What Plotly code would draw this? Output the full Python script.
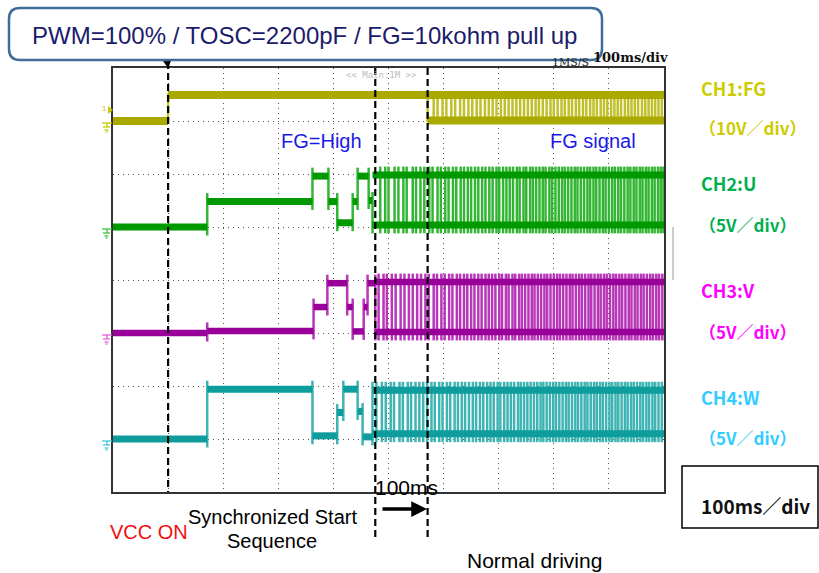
import plotly.graph_objects as go

# ---------------- data ----------------
# time axis in ms (100 ms/div, 10 div), vertical axis in scope divisions (8 div)
time_range_ms = [0, 1000]
div_range = [0, 8]

ch_names = ["CH1:FG", "CH2:U", "CH3:V", "CH4:W"]
ch_scale_labels = ["（10V／div）", "（5V／div）", "（5V／div）", "（5V／div）"]
ch_volt_per_div = [10, 5, 5, 5]
ch_ground_div = [7.0, 5.0, 3.0, 1.0]

# start-up sequence: step start times (ms) and levels (V)
ch1_pre_t = [0, 100]
ch1_pre_v = [0.0, 4.9]
ch2_pre_t = [0, 171, 362, 391, 407, 435, 444, 464]
ch2_pre_v = [0.0, 2.4, 4.8, 2.4, 0.4, 2.4, 4.8, 2.5]
ch3_pre_t = [0, 171, 364, 389, 425, 435, 455, 462]
ch3_pre_v = [0.0, 0.2, 2.45, 4.7, 2.45, 0.15, 2.45, 4.7]
ch4_pre_t = [0, 171, 362, 407, 418, 444, 453]
ch4_pre_v = [0.0, 4.7, 0.3, 2.5, 4.7, 2.6, 0.2]

# normal driving: start time (ms), first level, high / low levels (V), toggle edges (ms)
ch1_drive_start, ch1_first_high, ch1_hi, ch1_lo = 571, False, 4.9, 0.1
ch2_drive_start, ch2_first_high, ch2_hi, ch2_lo = 471, False, 4.9, 0.2
ch3_drive_start, ch3_first_high, ch3_hi, ch3_lo = 476, False, 4.8, 0.1
ch4_drive_start, ch4_first_high, ch4_hi, ch4_lo = 471, True, 4.6, 0.5

ch1_edges = [582, 589, 598, 605, 614, 621, 630, 637, 645, 652, 660, 667, 675, 682, 689, 696,
             704, 711, 718, 725, 732, 739, 746, 753, 760, 767, 773, 780, 787, 794, 800, 807,
             814, 820, 827, 833, 840, 846, 853, 859, 866, 872, 878, 885, 891, 897, 904, 910,
             916, 922, 929, 935, 941, 947, 953, 960, 966, 972, 978, 984, 990, 996]
ch2_edges = [485, 494, 500, 511, 518, 527, 533, 544, 550, 558, 565, 574, 580, 589, 595, 603,
             609, 617, 623, 631, 637, 644, 650, 657, 663, 670, 676, 683, 689, 696, 701, 708,
             714, 720, 726, 733, 738, 745, 750, 757, 762, 768, 774, 780, 785, 792, 797, 803,
             809, 815, 820, 826, 832, 838, 843, 849, 855, 861, 866, 872, 877, 883, 889, 894,
             900, 906, 911, 917, 922, 928, 934, 939, 945, 950, 956, 961, 967, 972, 978, 983,
             989, 994, 999]
ch3_edges = [482, 491, 497, 506, 513, 522, 529, 537, 544, 552, 559, 567, 573, 582, 588, 596,
             602, 610, 616, 624, 630, 637, 643, 650, 656, 663, 669, 676, 682, 688, 694, 701,
             706, 713, 718, 725, 730, 737, 742, 748, 754, 760, 765, 771, 777, 783, 788, 794,
             800, 806, 811, 817, 823, 829, 834, 840, 846, 851, 857, 863, 868, 874, 880, 885,
             891, 896, 902, 908, 913, 919, 924, 930, 936, 941, 947, 952, 958, 963, 969, 975,
             980, 986, 991, 997]
ch4_edges = [478, 488, 495, 504, 510, 520, 526, 535, 541, 549, 556, 563, 570, 578, 584, 592,
             598, 606, 612, 620, 626, 633, 639, 646, 653, 659, 666, 672, 679, 685, 691, 698,
             703, 710, 716, 722, 728, 735, 740, 746, 752, 758, 764, 770, 776, 781, 787, 793,
             799, 804, 810, 816, 822, 827, 833, 839, 844, 850, 856, 861, 867, 873, 878, 884,
             889, 895, 901, 906, 912, 917, 923, 929, 934, 940, 945, 951, 957, 962, 968, 973,
             979, 984, 990, 996]

marker_times_ms = [100, 476, 571]   # VCC ON, start of 100 ms window, normal driving

# ---------------- styling ----------------
band_colors = ["#A9A900", "#009A00", "#990099", "#0E9C9C"]
edge_colors = ["#C0C02A", "#33B633", "#B836B8", "#3FB4B4"]
label_colors = ["#CCCC00", "#00B050", "#FF00FF", "#33CCFF"]
band_widths = [8, 7, 6.5, 7]
overshoot_div = [0.03, 0.16, 0.16, 0.16]

W, H = 819, 573
PL, PR, PT, PB = 113, 664, 68, 492   # plot box in pixels


def X(px):
    return (px - PL) / (PR - PL)


def Y(py):
    return (PB - py) / (PB - PT)


channels = [
    (ch1_pre_t, ch1_pre_v, ch1_drive_start, ch1_first_high, ch1_hi, ch1_lo, ch1_edges),
    (ch2_pre_t, ch2_pre_v, ch2_drive_start, ch2_first_high, ch2_hi, ch2_lo, ch2_edges),
    (ch3_pre_t, ch3_pre_v, ch3_drive_start, ch3_first_high, ch3_hi, ch3_lo, ch3_edges),
    (ch4_pre_t, ch4_pre_v, ch4_drive_start, ch4_first_high, ch4_hi, ch4_lo, ch4_edges),
]

fig = go.Figure()
t_end = time_range_ms[1]

for k, (pre_t, pre_v, t0, first_high, hi, lo, edges) in enumerate(channels):
    g, vd, os_ = ch_ground_div[k], ch_volt_per_div[k], overshoot_div[k]

    def d(v):
        return g + v / vd

    # horizontal bands
    bx, by = [], []
    seg_t = pre_t + [t0]
    for i in range(len(pre_t)):
        bx += [seg_t[i], seg_t[i + 1], None]
        by += [d(pre_v[i]), d(pre_v[i]), None]
    bx += [t0, t_end, None, t0, t_end]
    by += [d(hi), d(hi), None, d(lo), d(lo)]

    # vertical transitions
    ex, ey = [], []
    for i in range(1, len(pre_t)):
        a, b = d(pre_v[i - 1]), d(pre_v[i])
        ex += [pre_t[i], pre_t[i], None]
        ey += [min(a, b) - os_, max(a, b) + os_, None]
    a, b = d(pre_v[-1]), d(hi if first_high else lo)
    ex += [t0, t0, None]
    ey += [min(a, b) - os_, max(a, b) + os_, None]
    for t in edges:
        ex += [t, t, None]
        ey += [d(lo) - os_, d(hi) + os_, None]

    fig.add_trace(go.Scatter(x=ex, y=ey, mode="lines", name=ch_names[k] + " edges",
                             line=dict(color=edge_colors[k], width=2.5),
                             hoverinfo="skip", showlegend=False))
    fig.add_trace(go.Scatter(x=bx, y=by, mode="lines", name=ch_names[k],
                             line=dict(color=band_colors[k], width=band_widths[k]),
                             hoverinfo="skip", showlegend=False))

shapes = []
# dashed marker lines
dash_spans = [(62, 492), (68, 541), (68, 541)]
for t, (ya, yb) in zip(marker_times_ms, dash_spans):
    xp = (t - time_range_ms[0]) / (time_range_ms[1] - time_range_ms[0])
    shapes.append(dict(type="line", xref="paper", yref="paper", x0=xp, x1=xp, y0=Y(ya), y1=Y(yb),
                       line=dict(color="black", width=2.2, dash="7px,4px")))
# trigger triangle
shapes.append(dict(type="path", xref="paper", yref="paper",
                   path=f"M{X(163)},{Y(61)} L{X(171)},{Y(61)} L{X(168)},{Y(68)} Z",
                   fillcolor="black", line=dict(color="black", width=0)))


def rounded(x0, y0, x1, y1, r):
    def P(a, b):
        return f"{X(a):.5f},{Y(b):.5f}"
    return (f"M{P(x0 + r, y0)} L{P(x1 - r, y0)} Q{P(x1, y0)} {P(x1, y0 + r)} "
            f"L{P(x1, y1 - r)} Q{P(x1, y1)} {P(x1 - r, y1)} L{P(x0 + r, y1)} "
            f"Q{P(x0, y1)} {P(x0, y1 - r)} L{P(x0, y0 + r)} Q{P(x0, y0)} {P(x0 + r, y0)} Z")


shapes.append(dict(type="path", xref="paper", yref="paper", path=rounded(9, 8, 602, 60, 11),
                   fillcolor="white", line=dict(color="#3F6C98", width=2.5), layer="above"))
# 100ms/div box
shapes.append(dict(type="rect", xref="paper", yref="paper", x0=X(682), x1=X(818), y0=Y(466), y1=Y(528),
                   line=dict(color="black", width=1.5), fillcolor="white"))
# small grey artefact line at right
shapes.append(dict(type="line", xref="paper", yref="paper", x0=X(673), x1=X(673), y0=Y(227), y1=Y(280),
                   line=dict(color="#999999", width=1)))

# ground symbols at the left edge
gnd_colors = ["#C8C800", "#40C040", "#E060E0", "#40C8D8"]
for k in range(4):
    gy = PB - ch_ground_div[k] * (PB - PT) / 8 + 2
    c = gnd_colors[k]
    for (xa, xb, dy) in [(102, 112, 0), (103, 110, 4), (104.5, 108.5, 7), (105.5, 107.5, 9)]:
        shapes.append(dict(type="line", xref="paper", yref="paper", x0=X(xa), x1=X(xb),
                           y0=Y(gy + dy), y1=Y(gy + dy), line=dict(color=c, width=1.3)))
    shapes.append(dict(type="line", xref="paper", yref="paper", x0=X(107), x1=X(107),
                       y0=Y(gy), y1=Y(gy + 4), line=dict(color=c, width=1.3)))
# CH1 trigger marker
shapes.append(dict(type="path", xref="paper", yref="paper",
                   path=f"M{X(108)},{Y(106)} L{X(113)},{Y(110)} L{X(108)},{Y(114)} Z",
                   fillcolor="#C8C800", line=dict(color="#C8C800", width=0)))

ARIAL = "Liberation Sans, Arial, sans-serif"
GOTH = "Noto Sans CJK JP, sans-serif"
ann = []


def txt(s, px, py, size, color, family=ARIAL, xanchor="center"):
    ann.append(dict(text=s, x=X(px), y=Y(py), xref="paper", yref="paper", showarrow=False,
                    xanchor=xanchor, yanchor="middle", font=dict(size=size, color=color, family=family)))


txt("PWM=100% / TOSC=2200pF / FG=10kohm pull up", 304, 35, 24, "#1B1B6B")
txt("1MS/S", 570, 62, 11, "#222222", family="DejaVu Serif, serif")
txt("<b>100ms/div</b>", 630, 58, 13, "#111111", family="DejaVu Serif, serif")
txt("<< Main:1M >>", 381, 75, 9, "#BBBBBB", family="DejaVu Sans Mono, monospace")
txt("1", 104, 108, 8, "#C8C800")
txt("FG=High", 321, 141, 20, "#1A1AE8")
txt("FG signal", 593, 141, 20, "#1A1AE8")

label_y = [(88, 128), (183, 224), (290, 331), (397, 437)]
for k in range(4):
    txt(f"<b>{ch_names[k]}</b>", 699, label_y[k][0], 18, label_colors[k], family=GOTH, xanchor="left")
    txt(f"<b>{ch_scale_labels[k]}</b>", 697, label_y[k][1], 17, label_colors[k], family=GOTH, xanchor="left")

txt("<b>100ms／div</b>", 755, 505, 19, "#111111", family=GOTH)
txt("100ms", 406, 487, 21, "#000000")
txt("VCC ON", 149, 532, 20, "#F01010")
txt("Synchronized Start", 272, 517, 20, "#000000")
txt("Sequence", 272, 541, 20, "#000000")
txt("Normal driving", 534, 560, 21, "#000000")

# 100 ms arrow
ann.append(dict(text="", x=X(427), y=Y(509), ax=-46, ay=0, xref="paper", yref="paper",
                axref="pixel", ayref="pixel", showarrow=True, arrowhead=2, arrowsize=0.9,
                arrowwidth=3.5, arrowcolor="black"))

axis_common = dict(showticklabels=False, ticks="", zeroline=False, showline=True, mirror=True,
                   linecolor="#333333", linewidth=1.5, showgrid=True, gridcolor="#555555",
                   gridwidth=1, griddash="1px,4px", fixedrange=True)

fig.update_layout(
    width=W, height=H, autosize=False,
    margin=dict(l=PL, r=W - PR, t=PT, b=H - PB, pad=0),
    paper_bgcolor="white", plot_bgcolor="white",
    xaxis=dict(range=time_range_ms, dtick=100, tick0=0, **axis_common),
    yaxis=dict(range=div_range, dtick=1, tick0=0, **axis_common),
    shapes=shapes, annotations=ann, showlegend=False,
)

fig.write_html("out.html", config={"displayModeBar": False},
               post_script="document.body.style.margin='0px';document.body.style.overflow='hidden';")
